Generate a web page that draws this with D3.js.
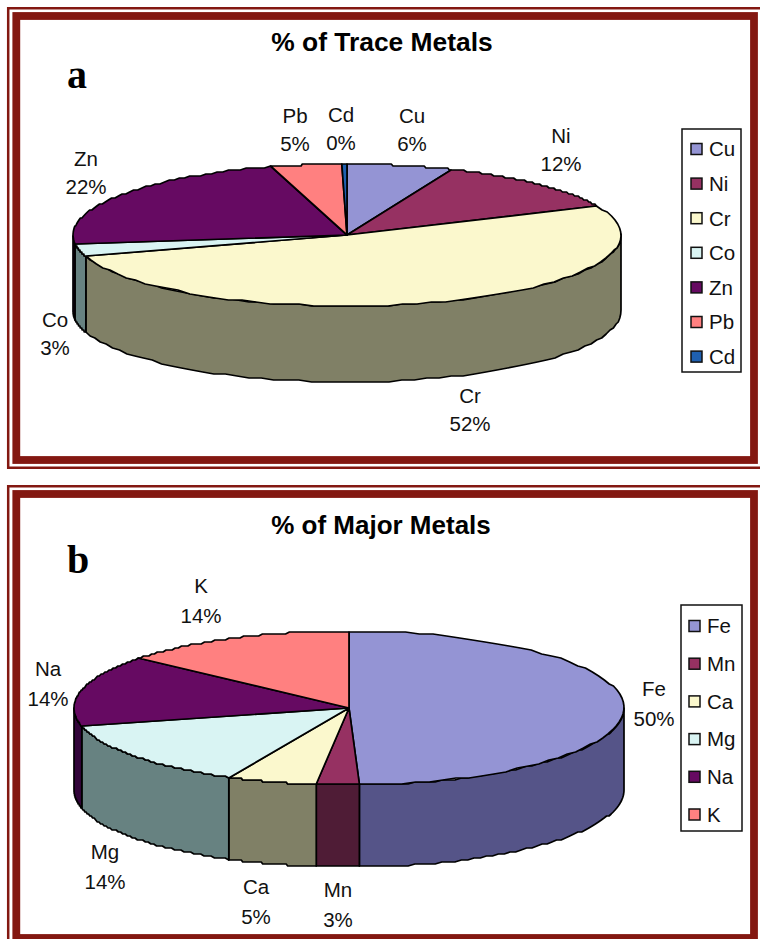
<!DOCTYPE html>
<html>
<head>
<meta charset="utf-8">
<style>
html, body { margin: 0; padding: 0; background: #fff; }
svg { display: block; }
text { font-family: "Liberation Sans", Arial, sans-serif; fill: #111; }
</style>
<script src="https://cdn.jsdelivr.net/npm/d3@7"></script>
</head>
<body>
<svg id="chart"></svg>
<script>
// values
const traceNames = ['Cu', 'Ni', 'Cr', 'Co', 'Zn', 'Pb', 'Cd']
const traceValues = [6.2, 12, 51.9, 3, 22.4, 4.2, 0.3]
const traceLabels = ['6%', '12%', '52%', '3%', '22%', '5%', '0%']

const majorNames = ['Fe', 'Mn', 'Ca', 'Mg', 'Na', 'K']
const majorValues = [49.4, 2.5, 5.3, 14, 14.9, 13.9]
const majorLabels = ['50%', '3%', '5%', '14%', '14%', '14%']

const colors = ['#9494d4', '#963162', '#fbf8cd', '#d9f4f3', '#660a62', '#ff8080', '#1f60b0']
const wallColors = ['#555488', '#4f1c36', '#808066', '#678281', '#33053a', '#804040', '#103058']

// layout of the two panels
const panelA = {
    title: '% of Trace Metals', titleX: 382, titleY: 42, titleSize: 26.4,
    letter: 'a', letterX: 77, letterY: 88,
    cx: 347, cy: 235, rx: 274, ry: 71, depth: 76,
    legend: {x: 682, y: 129, w: 59, h: 243, swatchX: 691, textX: 709, first: 149, step: 34.6},
    labelPos: [[412, 116], [561, 136], [470, 396], [55, 320], [86, 159], [295, 116], [341, 115]],
    lineGap: 28
}
const panelB = {
    title: '% of Major Metals', titleX: 381, titleY: 525, titleSize: 26,
    letter: 'b', letterX: 78, letterY: 573,
    cx: 349, cy: 708, rx: 275, ry: 77, depth: 82,
    legend: {x: 681, y: 605, w: 61, h: 226, swatchX: 689, textX: 707, first: 626, step: 37.7},
    labelPos: [[654, 689], [338, 890], [256, 887], [105, 852], [48, 669], [201, 586]],
    lineGap: 30
}

const width = 760, height = 939
const frameColor = '#831811'

const svg = d3.select('#chart')
    .attr('width', width)
    .attr('height', height)

// double border round a panel: thin outer line and a thick inner band
const drawFrame = function (top, bottom) {
    const g = svg.append('g').attr('fill', 'none').attr('stroke', frameColor)
    g.append('path')
        .attr('stroke-width', 2.5)
        .attr('d', `M${width},${top + 1.2}H8.2V${bottom + 1.2}H${width}`)
    g.append('rect')
        .attr('x', 16.3)
        .attr('y', top + 9)
        .attr('width', 737.7)
        .attr('height', bottom - top - 15.5)
        .attr('stroke-width', 7.8)
}

const drawPie = function (panel, names, values, labels) {
    const g = svg.append('g')

    const x = d3.scaleLinear().domain([-1, 1]).range([panel.cx - panel.rx, panel.cx + panel.rx])
    const y = d3.scaleLinear().domain([-1, 1]).range([panel.cy - panel.ry, panel.cy + panel.ry])

    const slices = d3.pie().sort(null)(values)

    const rim = (a0, a1) => d3.range(0, 61).map(i => a0 + (a1 - a0) * i / 60)
    const line = d3.line()

    // the original outline is stepped, so snap the rim to a coarse grid
    const snap = v => Math.round(v / 2) * 2
    const top = a => [x(Math.sin(a)), snap(y(-Math.cos(a)))]
    const low = a => [x(Math.sin(a)), snap(y(-Math.cos(a))) + panel.depth]

    // the wall only shows on the front half of the disc
    slices.forEach((s, i) => {
        const a0 = Math.max(s.startAngle, Math.PI / 2)
        const a1 = Math.min(s.endAngle, Math.PI * 1.5)
        if (a1 <= a0) return
        const angles = rim(a0, a1)
        g.append('path')
            .attr('d', line(angles.map(top).concat(angles.reverse().map(low))) + 'Z')
            .attr('fill', wallColors[i])
            .attr('stroke', '#000')
            .attr('stroke-width', 1.7)
            .attr('stroke-linejoin', 'round')
    })

    slices.forEach((s, i) => {
        const pts = [[panel.cx, panel.cy]].concat(rim(s.startAngle, s.endAngle).map(top))
        g.append('path')
            .attr('d', line(pts) + 'Z')
            .attr('fill', colors[i])
            .attr('stroke', '#000')
            .attr('stroke-width', 1.7)
            .attr('stroke-linejoin', 'round')
    })

    // data labels
    names.forEach((name, i) => {
        const [lx, ly] = panel.labelPos[i]
        const t = g.append('text')
            .attr('text-anchor', 'middle')
            .attr('font-size', 20.5)
        t.append('tspan').attr('x', lx).attr('y', ly).attr('dy', '0.35em').text(name)
        t.append('tspan').attr('x', lx).attr('y', ly + panel.lineGap).attr('dy', '0.35em').text(labels[i])
    })

    // title and panel letter
    g.append('text')
        .attr('x', panel.titleX)
        .attr('y', panel.titleY)
        .attr('dy', '0.35em')
        .attr('text-anchor', 'middle')
        .attr('font-size', panel.titleSize)
        .attr('font-weight', 'bold')
        .style('fill', '#000')
        .text(panel.title)
    g.append('text')
        .attr('x', panel.letterX)
        .attr('y', panel.letterY)
        .attr('text-anchor', 'middle')
        .attr('font-size', 40)
        .attr('font-weight', 'bold')
        .style('font-family', '"Liberation Serif", serif')
        .style('fill', '#000')
        .text(panel.letter)

    // legend
    const lg = panel.legend
    g.append('rect')
        .attr('x', lg.x)
        .attr('y', lg.y)
        .attr('width', lg.w)
        .attr('height', lg.h)
        .attr('fill', '#fff')
        .attr('stroke', '#111')
        .attr('stroke-width', 1.5)
    names.forEach((name, i) => {
        const rowY = lg.first + i * lg.step
        g.append('rect')
            .attr('x', lg.swatchX)
            .attr('y', rowY - 5.5)
            .attr('width', 11)
            .attr('height', 11)
            .attr('fill', colors[i])
            .attr('stroke', '#111')
            .attr('stroke-width', 1.5)
        g.append('text')
            .attr('x', lg.textX)
            .attr('y', rowY)
            .attr('dy', '0.36em')
            .attr('font-size', 20.5)
            .text(name)
    })
}

drawFrame(7, 466.5)
drawFrame(485, 944.5)
drawPie(panelA, traceNames, traceValues, traceLabels)
drawPie(panelB, majorNames, majorValues, majorLabels)
</script>
</body>
</html>
